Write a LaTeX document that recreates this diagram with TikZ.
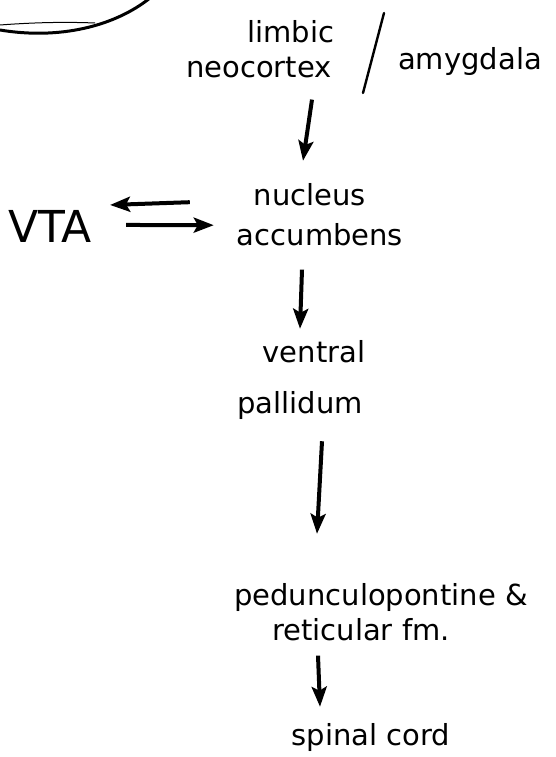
\documentclass[tikz,border=0pt]{standalone}
\usepackage{fontspec}
\setmainfont{DejaVu Sans}
\usetikzlibrary{positioning,arrows.meta}

\begin{document}
\begin{tikzpicture}[
    x=1pt, y=-1pt,
    region/.style={inner sep=0pt, anchor=base, font=\fontsize{29}{34}\selectfont},
    tract/.style={-{Stealth[length=20pt,width=15pt,inset=4pt]}, line width=4pt}
]
\useasboundingbox (0,0) rectangle (555,757);

% edge of the cortex outline, top left
\draw[line width=3pt, line cap=round] (0,30) .. controls (60,40) and (115,26) .. (150,-2);
\draw[line width=1pt] (0,25) .. controls (40,22) and (70,22) .. (95,23);

% forebrain inputs
\node[region] (limbic) at (291,43) {limbic};
\node[region] (neocortex) at (259,78) {neocortex};
\node[region] (amygdala) at (470,70) {amygdala};
\draw[line width=2.4pt, line cap=round] (384,13) -- (363,93);

\node[region] (nucleus) at (310,205) {nucleus};
\node[region] (accumbens) at (320,245) {accumbens};
\node[region, font=\fontsize{44}{50}\selectfont] (vta) at (50,242) {VTA};

\node[region] (ventral) at (314,362) {ventral};
\node[region] (pallidum) at (300,413) {pallidum};

\node[region] (pedunc) at (381,605) {pedunculopontine \&};
\node[region] (retic) at (361,640) {reticular fm.};

\node[region] (spinal) at (371,745) {spinal cord};

% projections
\draw[tract] ([xshift=53pt,yshift=-21pt]neocortex.south) -- ([xshift=-7pt,yshift=22pt]nucleus.north);
\draw[tract] ([xshift=-47pt,yshift=32pt]accumbens.west) -- ([xshift=18pt,yshift=21pt]vta.east);
\draw[tract] ([xshift=34pt,yshift=1pt]vta.east) -- ([xshift=-23pt,yshift=9pt]accumbens.west);
\draw[tract] ([xshift=-18pt,yshift=-24pt]accumbens.south) -- ([xshift=-14pt,yshift=11pt]ventral.north);
\draw[tract] ([xshift=22pt,yshift=-22pt]pallidum.south) -- ([xshift=-64pt,yshift=49pt]pedunc.north);
\draw[tract] ([xshift=-43pt,yshift=-15pt]retic.south) -- ([xshift=-51pt,yshift=16pt]spinal.north);

\end{tikzpicture}
\end{document}
